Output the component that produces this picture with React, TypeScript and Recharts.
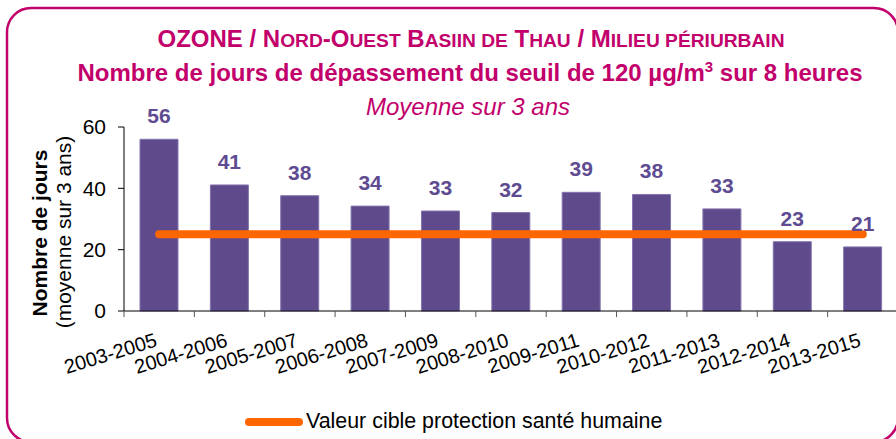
import React from "react";
import {
  Bar,
  ComposedChart,
  LabelList,
  Line,
  XAxis,
  YAxis
} from "recharts";

// Périodes (moyennes glissantes sur 3 ans)
const periods = [
  "2003-2005",
  "2004-2006",
  "2005-2007",
  "2006-2008",
  "2007-2009",
  "2008-2010",
  "2009-2011",
  "2010-2012",
  "2011-2013",
  "2012-2014",
  "2013-2015"
];

// Nombre de jours de dépassement
const joursDepassement = [56, 41.1, 37.6, 34.2, 32.6, 32.1, 38.7, 38.0, 33.3, 22.6, 20.9];

// Valeur cible protection santé humaine
const valeurCible = [25, 25, 25, 25, 25, 25, 25, 25, 25, 25, 25];

const yTicks = [0, 20, 40, 60];

const COLORS = {
  title: "#C2006B",
  bar: "#5F4B8B",
  barEdge: "#8474AE",
  label: "#5E4B91",
  cible: "#FF6600",
  axis: "#000000"
};

const FONT = "Arial, 'Liberation Sans', sans-serif";

const data = periods.map((p, i) => ({
  name: p,
  jours: joursDepassement[i],
  cible: valeurCible[i]
}));

const TICK_SIZE = 6;
const TICK_MARGIN = 2;

function PeriodTick(props: any) {
  const { x, y, payload } = props;
  const half = payload && payload.offset ? payload.offset : 35.2;
  const axisY = y - TICK_SIZE - TICK_MARGIN;
  const tx = x - 1;
  const ty = axisY + 35;
  return (
    <g>
      <line x1={x - half} x2={x - half} y1={axisY} y2={axisY + 6} stroke="#555" />
      <text
        x={tx}
        y={ty}
        textAnchor="end"
        fontSize={20}
        fontFamily={FONT}
        fill="#000"
        transform={`rotate(-17 ${tx} ${ty})`}
      >
        {payload.value}
      </text>
    </g>
  );
}

// petites capitales faites à la main (taille réduite pour les minuscules)
const SC = 19.2;

function Decor() {
  return (
    <svg
      width={896}
      height={439}
      style={{ position: "absolute", left: 0, top: 0 }}
      fontFamily={FONT}
    >
      <rect x={7} y={8} width={891} height={434} rx={24} ry={24} fill="none" stroke={COLORS.title} strokeWidth={2.5} />
      <text x={471} y={47} textAnchor="middle" fontSize={24} fontWeight="bold" fill={COLORS.title}>
        <tspan>OZONE / N</tspan>
        <tspan fontSize={SC}>ORD</tspan>
        <tspan>-O</tspan>
        <tspan fontSize={SC}>UEST</tspan>
        <tspan> B</tspan>
        <tspan fontSize={SC}>ASIIN DE</tspan>
        <tspan> T</tspan>
        <tspan fontSize={SC}>HAU</tspan>
        <tspan> / M</tspan>
        <tspan fontSize={SC}>ILIEU PÉRIURBAIN</tspan>
      </text>
      <text x={470} y={81} textAnchor="middle" fontSize={24} fontWeight="bold" fill={COLORS.title}>
        Nombre de jours de dépassement du seuil de 120 µg/m<tspan fontSize={15} dy={-9}>3</tspan>
        <tspan dy={9}> sur 8 heures</tspan>
      </text>
      <text x={468} y={115} textAnchor="middle" fontSize={24} fontStyle="italic" fill={COLORS.title}>
        Moyenne sur 3 ans
      </text>
      <text x={0} y={0} transform="translate(47 233) rotate(-90)" textAnchor="middle" fontSize={21} fontWeight="bold" fill="#000">
        Nombre de jours
      </text>
      <text x={0} y={0} transform="translate(71 232) rotate(-90)" textAnchor="middle" fontSize={21} fill="#000">
        (moyenne sur 3 ans)
      </text>
      <line x1={249} x2={299} y1={422} y2={422} stroke={COLORS.cible} strokeWidth={8} strokeLinecap="round" />
      <text x={306} y={428} fontSize={21.4} fill="#000">
        Valeur cible protection santé humaine
      </text>
    </svg>
  );
}

export default function App() {
  return (
    <div style={{ position: "absolute", left: 0, top: 0, width: 896, height: 439, overflow: "hidden", background: "#fff" }}>
      <Decor />
      <div style={{ position: "absolute", left: 0, top: 0 }}>
        <ComposedChart
          width={900}
          height={439}
          data={data}
          margin={{ top: 127, right: 2, bottom: 68, left: 0 }}
        >
          <XAxis
            dataKey="name"
            height={60}
            axisLine={{ stroke: COLORS.axis }}
            tickLine={false}
            tickSize={TICK_SIZE}
            tickMargin={TICK_MARGIN}
            interval={0}
            tick={<PeriodTick />}
          />
          <YAxis
            width={124}
            domain={[0, 60]}
            ticks={yTicks}
            axisLine={{ stroke: COLORS.axis }}
            tickLine={{ stroke: COLORS.axis }}
            tickSize={TICK_SIZE}
            tickMargin={12}
            tick={{ fontSize: 21, fill: "#000", fontFamily: FONT }}
          />
          <Bar
            dataKey="jours"
            barSize={38}
            fill={COLORS.bar}
            stroke={COLORS.barEdge}
            strokeWidth={1}
            isAnimationActive={false}
          >
            <LabelList
              dataKey="jours"
              position="top"
              offset={16}
              formatter={(v: any) => Math.round(Number(v))}
              style={{ fontSize: 21, fontWeight: "bold", fill: COLORS.label, fontFamily: FONT }}
            />
          </Bar>
          <Line
            dataKey="cible"
            stroke={COLORS.cible}
            strokeWidth={8}
            strokeLinecap="round"
            dot={false}
            activeDot={false}
            isAnimationActive={false}
          />
        </ComposedChart>
      </div>
    </div>
  );
}
